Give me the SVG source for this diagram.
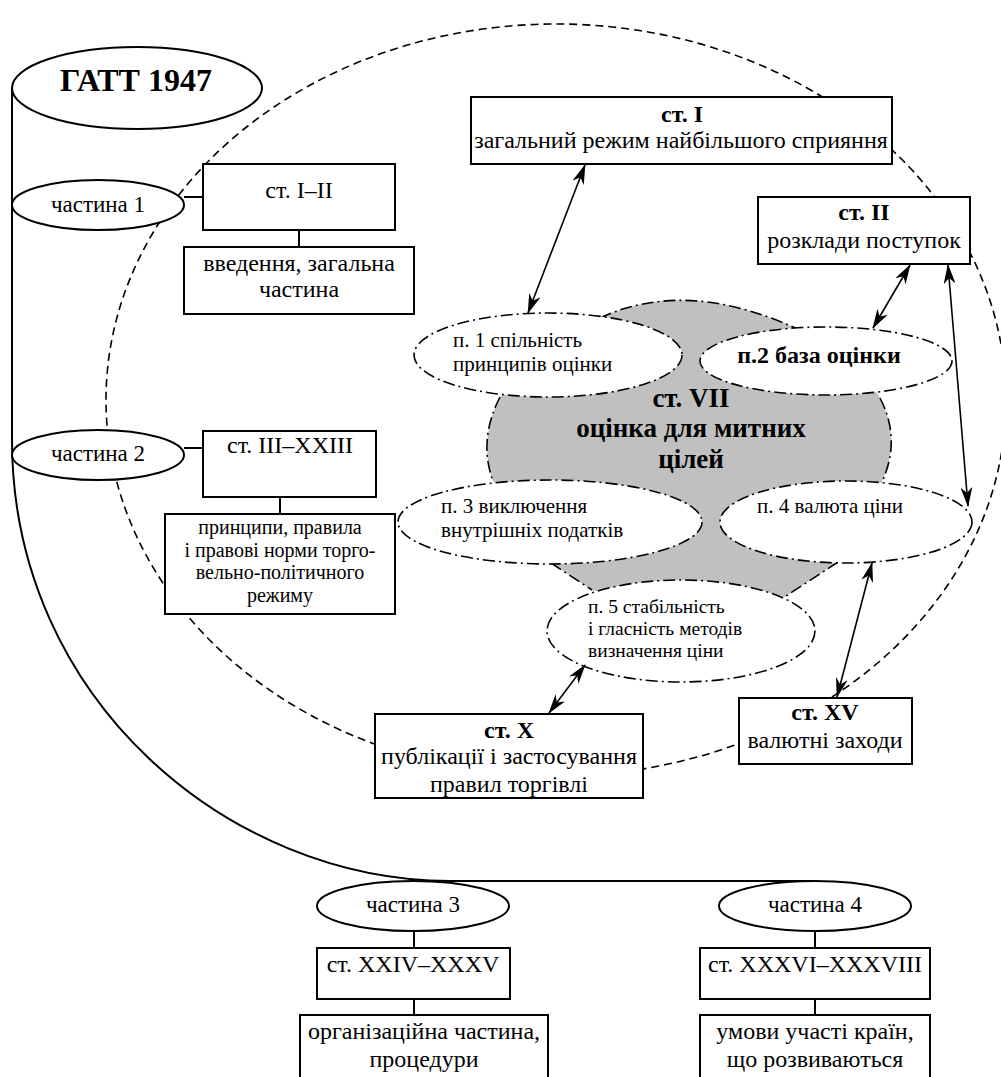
<svg xmlns="http://www.w3.org/2000/svg" width="1001" height="1077" viewBox="0 0 1001 1077">
<defs>
<style>
text{font-family:"Liberation Serif","Times New Roman","DejaVu Serif",serif;fill:#000}
.t24{font-size:24px}
.t23{font-size:23px}
.t21{font-size:21px}
.t20{font-size:20px}
.t19{font-size:19.5px}
.b{font-weight:bold}
.box{fill:#fff;stroke:#000;stroke-width:2}
.oval{fill:#fff;stroke:#000;stroke-width:2}
.dd{fill:#fff;stroke:#000;stroke-width:1.6;stroke-dasharray:12 4 2 4}
.ddl{fill:none;stroke:#000;stroke-width:1.6;stroke-dasharray:12 4 2 4}
.line{fill:none;stroke:#000;stroke-width:2}
.arr{fill:none;stroke:#000;stroke-width:1.6;marker-start:url(#ah);marker-end:url(#ah)}
</style>
<marker id="ah" viewBox="0 0 20 12" markerWidth="20" markerHeight="12" refX="19" refY="6" orient="auto-start-reverse" markerUnits="userSpaceOnUse">
<path d="M0,0 L20,6 L0,12 L6,6 Z" fill="#000"/>
</marker>
</defs>

<!-- background dashed boundary -->
<ellipse cx="556" cy="400" rx="450" ry="376" fill="none" stroke="#000" stroke-width="1.6" stroke-dasharray="8 5"/>

<!-- main trunk line -->
<g id="trunk">
<path class="line" d="M12,88 V440 C12,700 230,881 450,881 H815"/>
</g>

<!-- gray article VII shape -->
<g id="art7">
<path d="M600,318 Q690,276 808,334 L870,380 L880,398 Q902,440 881,484 L850,520 L838,562 L783,598 L700,620 L592,590 L551,563 L520,520 L493,481 Q478,440 500,397 L560,360 Z" fill="#c0c0c0" stroke="none"/>
<path class="ddl" d="M600,318 Q690,276 808,334"/>
<path class="ddl" d="M500,397 Q478,440 493,481"/>
<path class="ddl" d="M880,398 Q902,440 881,484"/>
<path class="ddl" d="M551,563 L592,590"/>
<path class="ddl" d="M838,562 L783,598"/>
</g>

<g id="p1"><ellipse class="dd" cx="548" cy="355" rx="134" ry="42"/>
<text class="t21" x="453" y="347">п. 1 спільність</text>
<text class="t21" x="453" y="371">принципів оцінки</text></g>

<g id="p2"><ellipse class="dd" cx="826" cy="361" rx="126" ry="34"/>
<text class="t24 b" x="819" y="363" text-anchor="middle">п.2 база оцінки</text></g>

<g id="p3"><ellipse class="dd" cx="550" cy="522" rx="152" ry="42"/>
<text class="t21" x="441" y="513">п. 3 виключення</text>
<text class="t21" x="441" y="537">внутрішніх податків</text></g>

<g id="p4"><ellipse class="dd" cx="846" cy="522" rx="126" ry="41"/>
<text class="t21" x="757" y="513">п. 4 валюта ціни</text></g>

<g id="p5"><ellipse class="dd" cx="681" cy="631" rx="134" ry="51"/>
<text class="t19" x="588" y="613">п. 5 стабільність</text>
<text class="t19" x="588" y="635">і гласність методів</text>
<text class="t19" x="588" y="657">визначення ціни</text></g>

<g id="art7-label">
<text class="b" style="font-size:27px" x="691" y="407" text-anchor="middle">ст. VII</text>
<text class="b" style="font-size:27px" x="691" y="437" text-anchor="middle">оцінка для митних</text>
<text class="b" style="font-size:27px" x="691" y="468" text-anchor="middle">цілей</text>
</g>

<!-- left structure -->
<g id="gatt"><ellipse class="oval" cx="137" cy="88" rx="125" ry="41"/>
<text class="b" style="font-size:32px" x="136" y="91" text-anchor="middle">ГАТТ 1947</text></g>

<g id="part1"><ellipse class="oval" cx="98" cy="205" rx="86" ry="25"/>
<text class="t23" x="98" y="212" text-anchor="middle">частина 1</text></g>

<g id="art1-2"><rect class="box" x="203" y="164" width="192" height="66"/>
<text class="t24" x="299" y="198" text-anchor="middle">ст. I–II</text></g>

<g id="intro"><rect class="box" x="184" y="247" width="230" height="67"/>
<text class="t24" x="299" y="271" text-anchor="middle">введення, загальна</text>
<text class="t24" x="299" y="297" text-anchor="middle">частина</text></g>

<g id="part2"><ellipse class="oval" cx="98" cy="455" rx="86" ry="25"/>
<text class="t23" x="98" y="461" text-anchor="middle">частина 2</text></g>

<g id="art3-23"><rect class="box" x="203" y="431" width="173" height="66"/>
<text class="t24" x="290" y="453" text-anchor="middle">ст. III–XXIII</text></g>

<g id="principles"><rect class="box" x="165" y="514" width="230" height="100"/>
<text class="t20" x="280" y="534" text-anchor="middle">принципи, правила</text>
<text class="t20" x="280" y="557" text-anchor="middle">і правові норми торго-</text>
<text class="t20" x="280" y="579" text-anchor="middle">вельно-політичного</text>
<text class="t20" x="280" y="602" text-anchor="middle">режиму</text></g>

<!-- articles around -->
<g id="artI"><rect class="box" x="471" y="97" width="421" height="67"/>
<text class="t24 b" x="682" y="122" text-anchor="middle">ст. I</text>
<text class="t24" x="681" y="148" text-anchor="middle">загальний режим найбільшого сприяння</text></g>

<g id="artII"><rect class="box" x="758" y="197" width="212" height="67"/>
<text class="t24 b" x="864" y="220" text-anchor="middle">ст. II</text>
<text class="t24" x="864" y="248" text-anchor="middle">розклади поступок</text></g>

<g id="artX"><rect class="box" x="375" y="714" width="268" height="84"/>
<text class="t24 b" x="509" y="738" text-anchor="middle">ст. X</text>
<text class="t24" x="509" y="764" text-anchor="middle">публікації і застосування</text>
<text class="t24" x="509" y="792" text-anchor="middle">правил торгівлі</text></g>

<g id="artXV"><rect class="box" x="739" y="698" width="173" height="66"/>
<text class="t24 b" x="825" y="720" text-anchor="middle">ст. XV</text>
<text class="t24" x="825" y="748" text-anchor="middle">валютні заходи</text></g>

<!-- bottom -->
<g id="part3"><ellipse class="oval" cx="413" cy="906" rx="96" ry="25"/>
<text class="t23" x="413" y="912" text-anchor="middle">частина 3</text></g>
<g id="art24-35"><rect class="box" x="317" y="948" width="193" height="51"/>
<text class="t24" x="413" y="972" text-anchor="middle">ст. XXIV–XXXV</text></g>
<g id="org"><rect class="box" x="300" y="1015" width="248" height="70"/>
<text class="t24" x="424" y="1039" text-anchor="middle">організаційна частина,</text>
<text class="t24" x="424" y="1067" text-anchor="middle">процедури</text></g>

<g id="part4"><ellipse class="oval" cx="815" cy="906" rx="96" ry="25"/>
<text class="t23" x="815" y="912" text-anchor="middle">частина 4</text></g>
<g id="art36-38"><rect class="box" x="700" y="948" width="230" height="51"/>
<text class="t24" x="815" y="972" text-anchor="middle">ст. XXXVI–XXXVIII</text></g>
<g id="dev"><rect class="box" x="700" y="1015" width="230" height="70"/>
<text class="t24" x="815" y="1039" text-anchor="middle">умови участі країн,</text>
<text class="t24" x="815" y="1067" text-anchor="middle">що розвиваються</text></g>

<!-- connectors -->
<g id="connectors">
<line class="line" x1="184" y1="197" x2="203" y2="197"/>
<line class="line" x1="299" y1="230" x2="299" y2="247"/>
<line class="line" x1="184" y1="448" x2="203" y2="448"/>
<line class="line" x1="280" y1="497" x2="280" y2="514"/>
<line class="line" x1="414" y1="931" x2="414" y2="948"/>
<line class="line" x1="414" y1="999" x2="414" y2="1015"/>
<line class="line" x1="815" y1="931" x2="815" y2="948"/>
<line class="line" x1="815" y1="999" x2="815" y2="1015"/>
<line class="arr" x1="585" y1="165" x2="528" y2="313"/>
<line class="arr" x1="910" y1="265" x2="873" y2="328"/>
<line class="arr" x1="948" y1="265" x2="968" y2="506"/>
<line class="arr" x1="837" y1="697" x2="872" y2="563"/>
<line class="arr" x1="549" y1="713" x2="585" y2="665"/>
</g>
</svg>
